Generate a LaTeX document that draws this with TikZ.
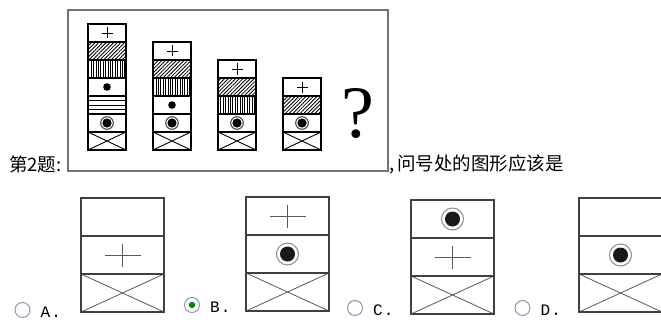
\documentclass[tikz,border=0pt]{standalone}
\usepackage{fontspec}
\setmainfont{Liberation Serif}
\newfontfamily\cjk{Noto Sans CJK SC}
\newfontfamily\optfont{Liberation Mono}
\usetikzlibrary{positioning,patterns.meta}

\begin{document}
\begin{tikzpicture}[x=1pt,y=-1pt,
    cell/.style={draw,line width=1.1pt,minimum width=38pt,minimum height=18pt,inner sep=0pt,outer sep=0pt},
    pluscell/.style={cell,path picture={\draw[line width=0.9pt] (path picture bounding box.center) +(-5.5,0) -- +(5.5,0) +(0,-5.5) -- +(0,5.5);}},
    hatchcell/.style={cell,pattern={Lines[angle=45,distance=2.6pt,line width=0.85pt]}},
    vlinecell/.style={cell,pattern={Lines[angle=90,distance=2.4pt,line width=0.9pt]}},
    hlinecell/.style={cell,path picture={\foreach \d in {-4.5,0,4.5} \draw[line width=0.8pt] (path picture bounding box.west) ++(0,\d) -- ++(40,0);}},
    dotcell/.style={cell,path picture={\fill (path picture bounding box.center) circle (3.8);}},
    ringcell/.style={cell,path picture={\draw[black!70,line width=1.1pt] (path picture bounding box.center) circle (6.3); \fill (path picture bounding box.center) circle (4.6);}},
    crosscell/.style={cell,path picture={\draw[line width=0.9pt] (path picture bounding box.north west) -- (path picture bounding box.south east) (path picture bounding box.north east) -- (path picture bounding box.south west);}},
    optcell/.style={draw=black!75,line width=1.2pt,minimum width=83pt,minimum height=38pt,inner sep=0pt,outer sep=0pt},
    optplus/.style={optcell,path picture={\draw[black!65,line width=0.9pt] (path picture bounding box.center) +(-18,0) -- +(18,0) +(0,-11.5) -- +(0,11.5);}},
    optring/.style={optcell,path picture={\draw[black!45,line width=1pt] (path picture bounding box.center) circle (11); \fill[black!90] (path picture bounding box.center) circle (7.5);}},
    optcross/.style={optcell,path picture={\draw[black!65,line width=0.8pt] (path picture bounding box.north west) -- (path picture bounding box.south east) (path picture bounding box.north east) -- (path picture bounding box.south west);}},
    radio/.style={circle,draw=blue!20!gray!70,line width=1pt,minimum size=15pt,inner sep=0pt},
    optlabel/.style={font=\optfont\fontsize{16}{16}\selectfont,inner sep=0pt},
    cjktext/.style={font=\cjk\fontsize{18.5}{18.5}\selectfont,inner sep=0pt,anchor=west}]
    \clip (0,0) rectangle (661,329);
    \fill[white] (0,0) rectangle (661,329);

    \draw[draw=black!55,line width=2pt] (68,10) rectangle (388,171);

    \node[pluscell,anchor=north] (a1) at (107,24) {};
    \node[hatchcell,below=0pt of a1] (a2) {};
    \node[vlinecell,below=0pt of a2] (a3) {};
    \node[dotcell,below=0pt of a3] (a4) {};
    \node[hlinecell,below=0pt of a4] (a5) {};
    \node[ringcell,below=0pt of a5] (a6) {};
    \node[crosscell,below=0pt of a6] (a7) {};

    \node[pluscell,anchor=north] (b1) at (172,42) {};
    \node[hatchcell,below=0pt of b1] (b2) {};
    \node[vlinecell,below=0pt of b2] (b3) {};
    \node[dotcell,below=0pt of b3] (b4) {};
    \node[ringcell,below=0pt of b4] (b5) {};
    \node[crosscell,below=0pt of b5] (b6) {};

    \node[pluscell,anchor=north] (c1) at (237,60) {};
    \node[hatchcell,below=0pt of c1] (c2) {};
    \node[vlinecell,below=0pt of c2] (c3) {};
    \node[ringcell,below=0pt of c3] (c4) {};
    \node[crosscell,below=0pt of c4] (c5) {};

    \node[pluscell,anchor=north] (d1) at (302,78) {};
    \node[hatchcell,below=0pt of d1] (d2) {};
    \node[ringcell,below=0pt of d2] (d3) {};
    \node[crosscell,below=0pt of d3] (d4) {};

    \node[font=\fontsize{74}{74}\selectfont,inner sep=0pt] (mark) at (358,114) {?};

    \node[cjktext] (qno) at (9,164) {第2题:};
    \node[cjktext] (ask) at (389,164) {,\hspace{3pt}问号处的图形应该是};

    \node[optcell,anchor=north] (oa1) at (122.5,198) {};
    \node[optplus,below=0pt of oa1] (oa2) {};
    \node[optcross,below=0pt of oa2] (oa3) {};

    \node[optplus,anchor=north] (ob1) at (287.5,197) {};
    \node[optring,below=0pt of ob1] (ob2) {};
    \node[optcross,below=0pt of ob2] (ob3) {};

    \node[optring,anchor=north] (oc1) at (452.5,200) {};
    \node[optplus,below=0pt of oc1] (oc2) {};
    \node[optcross,below=0pt of oc2] (oc3) {};

    \node[optcell,anchor=north] (od1) at (620.5,198) {};
    \node[optring,below=0pt of od1] (od2) {};
    \node[optcross,below=0pt of od2] (od3) {};

    \node[radio] (ra) at (22.5,310) {};
    \node[radio] (rb) at (192,305) {};
    \fill[green!55!black] (rb) circle (3.2);
    \node[radio] (rc) at (355,308) {};
    \node[radio] (rd) at (522.5,308) {};

    \node[optlabel,right=10pt of ra,yshift=-2pt] (la) {A\hspace{1pt}.};
    \node[optlabel,right=10pt of rb,yshift=-2pt] (lb) {B\hspace{1pt}.};
    \node[optlabel,right=10pt of rc,yshift=-2pt] (lc) {C\hspace{1pt}.};
    \node[optlabel,right=10pt of rd,yshift=-2pt] (ld) {D\hspace{1pt}.};
\end{tikzpicture}
\end{document}
